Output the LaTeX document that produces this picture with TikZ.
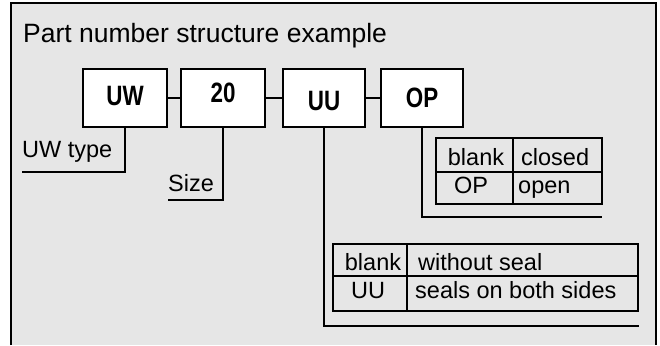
\documentclass[tikz,border=0pt]{standalone}
\usepackage{fontspec}
\setmainfont{Liberation Sans}
\newfontfamily\condfont[FakeStretch=0.8]{Liberation Sans}
\definecolor{panel}{HTML}{E6E6E6}
\begin{document}
\begin{tikzpicture}[x=1pt,y=-1pt,
  pbox/.style={draw,line width=2pt,fill=white,minimum width=82pt,minimum height=58pt,inner sep=0pt},
  ptext/.style={anchor=base,inner sep=0pt,font=\condfont\bfseries\fontsize{28}{32}\selectfont},
  lbl/.style={inner sep=0pt,font=\fontsize{23.5}{27}\selectfont},
  conn/.style={line width=2pt},
  tbl/.style={line width=2pt}]
\useasboundingbox (0,0) rectangle (660,345);
\fill[panel] (11,3) rectangle (656,345);
\draw[line width=2.4pt] (11,345) -- (11,3) -- (656,3) -- (656,345);
% title
\node[lbl,anchor=base west,font=\fontsize{26.5}{30}\selectfont] (title) at (23,42) {Part number structure example};
% boxes
\node[pbox,minimum width=84pt] (UW) at (125,97.5) {};
\node[pbox,minimum width=84pt] (S20) at (223,97.5) {};
\node[pbox] (UU) at (324,97.5) {};
\node[pbox] (OP) at (422,97.5) {};
\node[ptext] (tUW) at (125,105.5) {UW};
\node[ptext] (tS20) at (223,102) {20};
\node[ptext] (tUU) at (324,110.5) {UU};
\node[ptext] (tOP) at (422,107) {OP};
\draw[conn] (UW.east) -- (S20.west);
\draw[conn] (S20.east) -- (UU.west);
\draw[conn] (UU.east) -- (OP.west);
% leaders
\coordinate (cUW) at (22,172);
\coordinate (cS20) at (168,200);
\coordinate (cUU) at (639,326);
\coordinate (cOP) at (602,217);
\draw[conn] (UW.south) |- (cUW);
\draw[conn] (S20.south) |- (cS20);
\draw[conn] (UU.south) |- (cUU);
\draw[conn] (OP.south) |- (cOP);
\node[lbl,anchor=base west] (lUW) at (22,157) {UW type};
\node[lbl,anchor=base west] (lS20) at (168,191) {Size};
% OP table
\node[draw,tbl,minimum width=166pt,minimum height=66pt,inner sep=0pt] (tabOP) at (519,171) {};
\draw[tbl] (tabOP.west |- 0,172) -- (tabOP.east |- 0,172);
\draw[tbl] (513,0 |- tabOP.north) -- (513,0 |- tabOP.south);
\node[lbl,anchor=base] (opa) at (476,165) {blank};
\node[lbl,anchor=base west] (opb) at (521,165) {closed};
\node[lbl,anchor=base] (opc) at (471,193) {OP};
\node[lbl,anchor=base west] (opd) at (518,193) {open};
% UU table
\node[draw,tbl,minimum width=305pt,minimum height=67pt,inner sep=0pt] (tabUU) at (485.5,277.5) {};
\draw[tbl] (tabUU.west |- 0,276) -- (tabUU.east |- 0,276);
\draw[tbl] (407,0 |- tabUU.north) -- (407,0 |- tabUU.south);
\node[lbl,anchor=base] (uua) at (373,270) {blank};
\node[lbl,anchor=base west] (uub) at (418,270) {without seal};
\node[lbl,anchor=base] (uuc) at (368,298) {UU};
\node[lbl,anchor=base west] (uud) at (415,298) {seals on both sides};
\end{tikzpicture}
\end{document}
